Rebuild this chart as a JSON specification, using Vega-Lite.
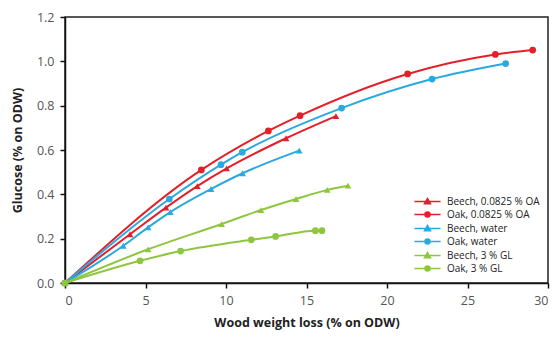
{
  "$schema": "https://vega.github.io/schema/vega-lite/v6.json",
  "width": 483,
  "height": 266,
  "autosize": "none",
  "padding": {"left": 65, "top": 17, "right": 11, "bottom": 56},
  "background": "white",
  "config": {
    "font": "Open Sans",
    "view": {"stroke": "#222", "strokeWidth": 1.5},
    "axis": {"grid": false, "domainColor": "#111", "domainWidth": 1.5, "tickColor": "#111", "tickWidth": 1.5, "tickSize": 5, "labelColor": "#555", "labelFontSize": 12.5, "labelFont": "Open Sans", "titleFont": "Open Sans", "titleFontSize": 12.5, "titleFontWeight": "bold", "titleColor": "#222"}
  },
  "data": {"values": [
    {"series": "Beech, 0.0825 % OA", "wood": "Beech", "x": 0, "y": 0},
    {"series": "Beech, 0.0825 % OA", "wood": "Beech", "x": 4.04, "y": 0.22},
    {"series": "Beech, 0.0825 % OA", "wood": "Beech", "x": 6.27, "y": 0.34},
    {"series": "Beech, 0.0825 % OA", "wood": "Beech", "x": 8.22, "y": 0.437},
    {"series": "Beech, 0.0825 % OA", "wood": "Beech", "x": 10.04, "y": 0.517},
    {"series": "Beech, 0.0825 % OA", "wood": "Beech", "x": 13.73, "y": 0.653},
    {"series": "Beech, 0.0825 % OA", "wood": "Beech", "x": 16.83, "y": 0.753},
    {"series": "Oak, 0.0825 % OA", "wood": "Oak", "x": 0, "y": 0},
    {"series": "Oak, 0.0825 % OA", "wood": "Oak", "x": 8.47, "y": 0.51},
    {"series": "Oak, 0.0825 % OA", "wood": "Oak", "x": 12.63, "y": 0.686},
    {"series": "Oak, 0.0825 % OA", "wood": "Oak", "x": 14.6, "y": 0.755},
    {"series": "Oak, 0.0825 % OA", "wood": "Oak", "x": 21.28, "y": 0.943},
    {"series": "Oak, 0.0825 % OA", "wood": "Oak", "x": 26.73, "y": 1.031},
    {"series": "Oak, 0.0825 % OA", "wood": "Oak", "x": 29.05, "y": 1.051},
    {"series": "Beech, water", "wood": "Beech", "x": 0, "y": 0},
    {"series": "Beech, water", "wood": "Beech", "x": 3.62, "y": 0.168},
    {"series": "Beech, water", "wood": "Beech", "x": 5.16, "y": 0.251},
    {"series": "Beech, water", "wood": "Beech", "x": 6.54, "y": 0.32},
    {"series": "Beech, water", "wood": "Beech", "x": 9.07, "y": 0.424},
    {"series": "Beech, water", "wood": "Beech", "x": 11.03, "y": 0.495},
    {"series": "Beech, water", "wood": "Beech", "x": 14.55, "y": 0.597},
    {"series": "Oak, water", "wood": "Oak", "x": 0, "y": 0},
    {"series": "Oak, water", "wood": "Oak", "x": 6.48, "y": 0.379},
    {"series": "Oak, water", "wood": "Oak", "x": 9.69, "y": 0.534},
    {"series": "Oak, water", "wood": "Oak", "x": 11.01, "y": 0.59},
    {"series": "Oak, water", "wood": "Oak", "x": 17.18, "y": 0.789},
    {"series": "Oak, water", "wood": "Oak", "x": 22.8, "y": 0.92},
    {"series": "Oak, water", "wood": "Oak", "x": 27.37, "y": 0.99},
    {"series": "Beech, 3 % GL", "wood": "Beech", "x": 0, "y": 0},
    {"series": "Beech, 3 % GL", "wood": "Beech", "x": 5.16, "y": 0.152},
    {"series": "Beech, 3 % GL", "wood": "Beech", "x": 9.73, "y": 0.266},
    {"series": "Beech, 3 % GL", "wood": "Beech", "x": 12.17, "y": 0.329},
    {"series": "Beech, 3 % GL", "wood": "Beech", "x": 14.35, "y": 0.379},
    {"series": "Beech, 3 % GL", "wood": "Beech", "x": 16.29, "y": 0.42},
    {"series": "Beech, 3 % GL", "wood": "Beech", "x": 17.58, "y": 0.439},
    {"series": "Oak, 3 % GL", "wood": "Oak", "x": 0, "y": 0},
    {"series": "Oak, 3 % GL", "wood": "Oak", "x": 4.66, "y": 0.1},
    {"series": "Oak, 3 % GL", "wood": "Oak", "x": 7.18, "y": 0.144},
    {"series": "Oak, 3 % GL", "wood": "Oak", "x": 11.57, "y": 0.195},
    {"series": "Oak, 3 % GL", "wood": "Oak", "x": 13.08, "y": 0.21},
    {"series": "Oak, 3 % GL", "wood": "Oak", "x": 15.55, "y": 0.236},
    {"series": "Oak, 3 % GL", "wood": "Oak", "x": 15.96, "y": 0.236}
  ]},
  "encoding": {
    "x": {"field": "x", "type": "quantitative", "scale": {"domain": [0, 30], "nice": false}, "axis": {"values": [0, 5, 10, 15, 20, 25, 30], "title": "Wood weight loss (% on ODW)", "titlePadding": 10, "labelPadding": 6}},
    "y": {"field": "y", "type": "quantitative", "scale": {"domain": [0, 1.2], "nice": false}, "axis": {"values": [0, 0.2, 0.4, 0.6, 0.8, 1.0, 1.2], "format": ".1f", "title": "Glucose (% on ODW)", "titlePadding": 12, "labelPadding": 6}},
    "color": {"field": "series", "type": "nominal",
      "scale": {"domain": ["Beech, 0.0825 % OA", "Oak, 0.0825 % OA", "Beech, water", "Oak, water", "Beech, 3 % GL", "Oak, 3 % GL"],
                "range": ["#E3202A", "#E3202A", "#2AA9E0", "#2AA9E0", "#8DC63F", "#8DC63F"]},
      "legend": {"title": null, "orient": "bottom-right", "offset": 8, "labelFontSize": 10, "labelColor": "#222", "labelFont": "Open Sans", "rowPadding": 1, "symbolSize": 81, "labelOffset": 14, "labelLimit": 200,
        "encode": {"symbols": {"update": {
          "shape": {"signal": "indexof(datum.value, 'Beech') >= 0 ? 'M-2.9,0L2.9,0M-0.65,0.5L0,-0.65L0.65,0.5Z' : 'M-2.9,0L2.9,0M0.55,0A0.55,0.55 0 1,1 -0.55,0A0.55,0.55 0 1,1 0.55,0Z'"},
          "fill": {"scale": "color", "field": "value"},
          "stroke": {"scale": "color", "field": "value"},
          "strokeWidth": {"value": 1.6},
          "opacity": {"value": 1}
        }}}}
    }
  },
  "layer": [
    {"mark": {"type": "line", "interpolate": "monotone", "strokeWidth": 2}, "encoding": {"detail": {"field": "series"}}},
    {"mark": {"type": "point", "filled": true, "size": 45, "opacity": 1}, "encoding": {"shape": {"field": "wood", "type": "nominal", "scale": {"domain": ["Beech", "Oak"], "range": ["triangle-up", "circle"]}, "legend": null}}}
  ]
}
